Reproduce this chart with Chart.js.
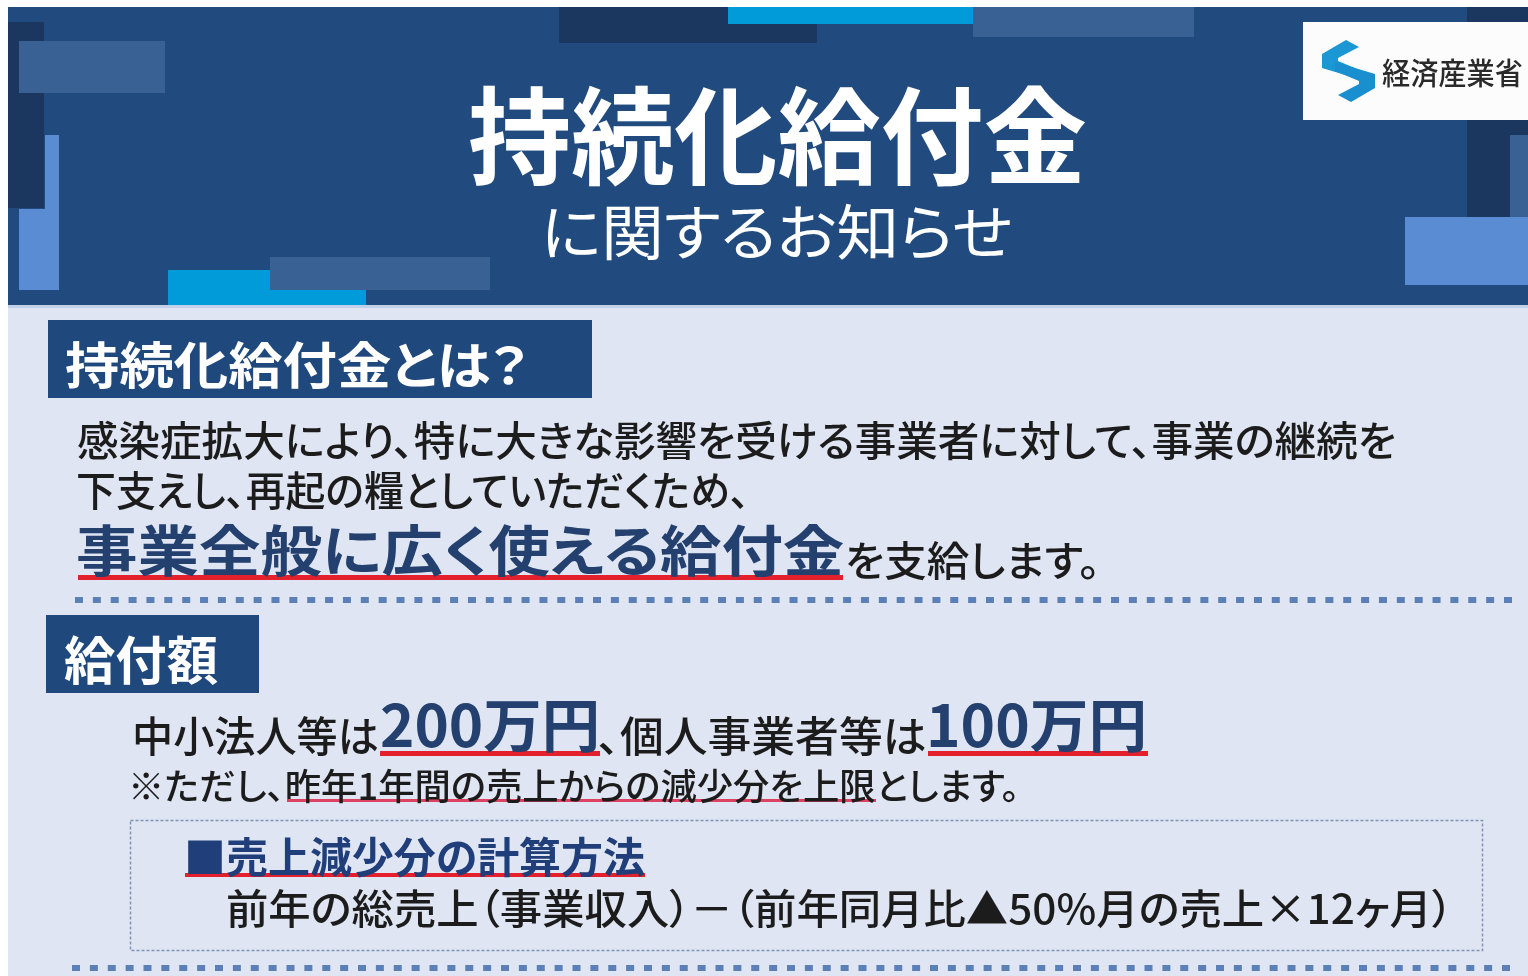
<!DOCTYPE html>
<html lang="ja">
<head>
<meta charset="utf-8">
<script src="https://cdn.jsdelivr.net/npm/chart.js@4/dist/chart.umd.min.js"></script>
<style>
html,body{margin:0;padding:0;background:#ffffff;}
#wrap{position:relative;width:1528px;height:976px;overflow:hidden;}
#c{position:absolute;left:0;top:0;}
.t{position:absolute;white-space:nowrap;line-height:1;font-family:"Noto Sans CJK JP","Noto Sans",sans-serif;font-feature-settings:"palt";transform-origin:0 0;}
</style>
</head>
<body>
<div id="wrap"><canvas id="c" width="1528" height="976"></canvas></div>
<script>
// ---- content (data) ----
const titleMain = '持続化給付金';
const titleSub = 'に関するお知らせ';
const ministry = '経済産業省';
const sectionLabels = ['持続化給付金とは？', '給付額'];
const introLines = ['感染症拡大により、特に大きな影響を受ける事業者に対して、事業の継続を', '下支えし、再起の糧としていただくため、'];
const introEmphasis = '事業全般に広く使える給付金';
const introTail = 'を支給します。';
const recipientCategories = ['中小法人等', '個人事業者等'];
const maxBenefitMan = [200, 100];
const amountUnit = '万円';
const noteLine = ['※ただし、', '昨年1年間の売上からの減少分を上限', 'とします。'];
const methodTitle = '■売上減少分の計算方法';
const dropThresholdPct = 50;
const monthsMultiplier = 12;

// ---- styles ----
const C = {
  header:'#214b7f', dark:'#1b365f', mid:'#3a6193', light:'#5a8cd4', cyan:'#009bd8',
  body:'#dfe5f2', label:'#1f497d', red:'#e3202b', pink:'#dc4362', dots:'#5b80b5',
  navy:'#24406e', ink:'#1c1c1c', logo:'#1b97d4'
};

const poster = {
  id:'poster',
  beforeDraw(chart){
    const ctx = chart.ctx, sx = chart.scales.x, sy = chart.scales.y;
    const X = v => sx.getPixelForValue(v), Y = v => sy.getPixelForValue(v);
    const R = (x0,y0,x1,y1,col) => { ctx.fillStyle = col; ctx.fillRect(X(x0), Y(y0), X(x1)-X(x0), Y(y1)-Y(y0)); };
    ctx.save();
    R(0,0,1528,976,'#ffffff');
    // header band
    R(8,7,1528,305,C.header);
    R(8,305,1528,308,'#c3d0ea');
    R(8,308,1528,976,C.body);
    // decorative blocks
    R(8,22,44,208,C.dark);
    R(19,41,165,93,C.mid);
    R(45,135,59,290,C.light);
    R(19,209,45,290,C.light);
    R(168,270,366,305,C.cyan);
    R(270,257,490,290,C.mid);
    R(559,7,817,43,C.dark);
    R(728,7,973,24,C.cyan);
    R(973,7,1194,37,C.mid);
    R(1467,7,1528,217,C.dark);
    R(1510,135,1528,217,C.mid);
    R(1405,217,1528,285,C.light);
    R(1303,22,1528,120,'#fcfcfc');
    // logo mark
    const poly = (pts,col) => { ctx.fillStyle = col; ctx.beginPath(); pts.forEach((p,i)=> i?ctx.lineTo(X(p[0]),Y(p[1])):ctx.moveTo(X(p[0]),Y(p[1]))); ctx.closePath(); ctx.fill(); };
    poly([[1346,40],[1359,47],[1338,58],[1338,61],[1362,71],[1362,80],[1322,68],[1322,54]], C.logo);
    poly([[1351,102],[1338,95],[1359,84],[1359,81],[1335,71],[1335,62],[1375,74],[1375,88]], '#1a8fcf');
    // section label boxes
    R(48,320,592,398,C.label);
    R(46,615,259,693,C.label);
    // underlines
    R(78,575,843,580,C.red);
    R(380,751,600,756,C.red);
    R(928,751,1148,756,C.red);
    R(287,799,876,802,C.pink);
    R(185,873,645,877,C.red);
    // dotted separators
    const dots = (x0,x1,yc) => { const n = Math.floor((x1 - x0 - 8) / 17.8); for(let i=0;i<=n;i++){ const x = x0 + i*(x1-x0-8)/n; R(x,yc-3,x+8,yc+3,C.dots); } };
    dots(75,1512,600);
    dots(72,1510,968);
    // dashed box
    ctx.strokeStyle = '#8094b6'; ctx.lineWidth = 1.5; ctx.setLineDash([3,2]);
    ctx.strokeRect(X(130)+0.5, Y(820)+0.5, X(1482)-X(130), Y(950)-Y(820));
    ctx.restore();
  }
};

new Chart(document.getElementById('c'), {
  type:'scatter',
  data:{datasets:[]},
  options:{
    responsive:false, animation:false, devicePixelRatio:1, events:[],
    layout:{padding:0},
    plugins:{legend:{display:false}, tooltip:{enabled:false}},
    scales:{
      x:{type:'linear', min:0, max:1528, display:false},
      y:{type:'linear', min:0, max:976, reverse:true, display:false}
    }
  },
  plugins:[poster]
});

// ---- text placement (ink box fitting) ----
const wrap = document.getElementById('wrap');
const meas = document.createElement('canvas').getContext('2d');
const FAMILY = '"Noto Sans CJK JP", "Noto Sans", sans-serif';
const NARROW_END = '。、';
function put(text, s){
  const fs = s.fs, weight = s.weight || 500;
  const el = document.createElement('span');
  el.className = 't';
  el.textContent = text;
  el.style.fontSize = fs + 'px';
  el.style.fontWeight = weight;
  el.style.color = s.color || C.ink;
  wrap.appendChild(el);
  meas.font = weight + ' ' + fs + 'px ' + FAMILY;
  const m = meas.measureText(text);
  const fA = m.fontBoundingBoxAscent, fD = m.fontBoundingBoxDescent;
  const baseFromTop = (fs - (fA + fD)) / 2 + fA;
  const top = s.y + m.actualBoundingBoxAscent - baseFromTop;
  const W = el.getBoundingClientRect().width;
  const chars = Array.from(text);
  const first = chars[0], lastc = chars[chars.length - 1];
  const f = meas.measureText(first);
  const l = meas.measureText(lastc);
  let lb = Math.max(0, -f.actualBoundingBoxLeft);
  let rb = Math.max(0, l.width - l.actualBoundingBoxRight);
  if (NARROW_END.includes(lastc)) rb = 0.12 * fs;
  if (NARROW_END.includes(first)) lb = 0.08 * fs;
  const inkW = Math.max(1, W - lb - rb);
  const k = s.w / inkW;
  el.style.left = (s.x - lb * k) + 'px';
  el.style.top = top + 'px';
  el.style.transform = 'scaleX(' + k + ')';
}

function build(){
  put(titleMain, {x:470, y:85, w:616, fs:106, weight:700, color:'#ffffff'});
  put(titleSub, {x:548, y:203, w:460, fs:60, weight:400, color:'#ffffff'});
  put(ministry, {x:1382, y:58, w:140, fs:30, weight:500, color:'#2a2a2a'});
  put(sectionLabels[0], {x:66, y:340, w:449, fs:50, weight:700, color:'#ffffff'});
  put(introLines[0], {x:78, y:420, w:1314, fs:41});
  put(introLines[1], {x:78, y:470, w:667, fs:41});
  put(introEmphasis, {x:78, y:524, w:765, fs:55, weight:700, color:C.navy});
  put(introTail, {x:848, y:540, w:247, fs:41});
  put(sectionLabels[1], {x:64, y:635, w:154, fs:52, weight:700, color:'#ffffff'});
  put(recipientCategories[0] + 'は', {x:135, y:715, w:243, fs:42});
  put(maxBenefitMan[0] + amountUnit, {x:382, y:701, w:214, fs:58, weight:700, color:C.navy});
  put('、' + recipientCategories[1] + 'は', {x:602, y:715, w:324, fs:42});
  put(maxBenefitMan[1] + amountUnit, {x:930, y:701, w:213, fs:58, weight:700, color:C.navy});
  put(noteLine.join(''), {x:133, y:768, w:882, fs:36});
  put(methodTitle, {x:188, y:836, w:457, fs:42, weight:700, color:'#1f3e7a'});
  put('前年の総売上（事業収入）－（前年同月比▲' + dropThresholdPct + '%月の売上×' + monthsMultiplier + 'ヶ月）', {x:228, y:888, w:1197, fs:41});
}
if (document.fonts && document.fonts.ready) { document.fonts.ready.then(build); } else { build(); }
</script>
</body>
</html>
